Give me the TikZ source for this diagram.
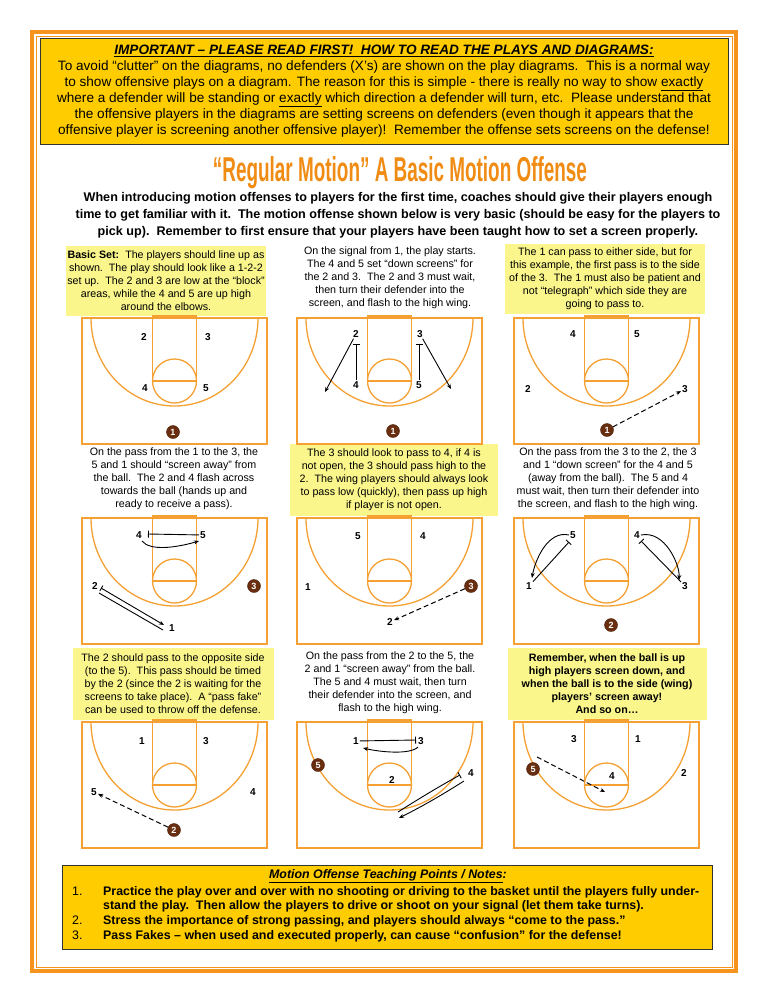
\documentclass[tikz,border=0pt]{standalone}
\usepackage{fontspec}
\setmainfont{Liberation Sans}
\usetikzlibrary{arrows.meta}
\definecolor{frameor}{RGB}{247,148,29}
\definecolor{courtor}{RGB}{245,160,50}
\definecolor{hdryel}{RGB}{255,204,0}
\definecolor{ltyel}{RGB}{250,246,140}
\definecolor{balbr}{RGB}{105,45,15}
\definecolor{titleor}{RGB}{240,140,20}
\tikzset{
  courtline/.style={draw=courtor,line width=1.3pt},
  pnum/.style={font=\fontsize{10}{10}\selectfont\bfseries,inner sep=1pt},
  ballnode/.style={circle,fill=balbr,draw=balbr!70!black,minimum size=13pt,inner sep=0pt,text=white,font=\fontsize{9}{9}\selectfont\bfseries},
  mv/.style={-{Stealth[length=5pt,width=4pt]},line width=0.9pt},
  pass/.style={-{Stealth[length=5pt,width=4pt]},line width=1pt,dash pattern=on 5pt off 3pt},
  scr/.style={-{Bar[width=7pt]},line width=0.9pt},
  txt/.style={align=center,font=\fontsize{10.7}{13}\selectfont,inner sep=1pt},
  ybox/.style={txt,fill=ltyel,minimum width=198pt,minimum height=70pt},
}
\newcommand{\drawcourt}[2]{%
  \begin{scope}[shift={(#1,#2)}]
    \draw[courtline] (0,0) rectangle (185,126);
    \draw[courtline] (70.5,-2) rectangle (114.5,63);
    \draw[courtline] (92.5,63) circle (22);
    \draw[courtline] (9,0) arc[start angle=180,end angle=0,x radius=83.5,y radius=88];
  \end{scope}}
\begin{document}
\begin{tikzpicture}[x=1pt,y=-1pt]
\useasboundingbox (0,0) rectangle (768,994);
\fill[white] (0,0) rectangle (768,994);
% outer frame
\draw[frameor,line width=4pt] (32,32) rectangle (736,971);
\draw[frameor,line width=0.6pt] (36,36) rectangle (732,967);
% header
\node[draw=black!80,line width=0.8pt,fill=hdryel,minimum width=688pt,minimum height=106pt,inner sep=0pt] (hdrbox) at (384,91) {};
\node[align=center,font=\fontsize{13.6}{16}\selectfont,inner sep=0pt] (hdr) at (384,91) {%
\underline{\textbf{\textit{IMPORTANT -- PLEASE READ FIRST!\ \ HOW TO READ THE PLAYS AND DIAGRAMS:}}}\\
To avoid “clutter” on the diagrams, no defenders (X’s) are shown on the play diagrams.\ \ This is a normal way\\
to show offensive plays on a diagram. The reason for this is simple - there is really no way to show \underline{exactly}\\
where a defender will be standing or \underline{exactly} which direction a defender will turn, etc.\ \ Please understand that\\
the offensive players in the diagrams are setting screens on defenders (even though it appears that the\\
offensive player is screening another offensive player)!\ \ Remember the offense sets screens on the defense!};
% title
\node[inner sep=0pt,text=titleor] (title) at (400,173) {\resizebox{374pt}{25pt}{\bfseries “Regular Motion” A Basic Motion Offense}};
\node[align=center,font=\fontsize{12.6}{17}\selectfont\bfseries,inner sep=0pt] (intro) at (398,215) {%
When introducing motion offenses to players for the first time, coaches should give their players enough\\
time to get familiar with it.\ \ The motion offense shown below is very basic (should be easy for the players to\\
pick up).\ \ Remember to first ensure that your players have been taught how to set a screen properly.};
% row 1 texts
\node[ybox] (t1) at (166,281) {\textbf{Basic Set:}\ \ The players should line up as\\ shown.\ \ The play should look like a 1-2-2\\ set up.\ \ The 2 and 3 are low at the “block”\\ areas, while the 4 and 5 are up high\\ around the elbows.};
\node[txt] (t2) at (390,278) {On the signal from 1, the play starts.\\ The 4 and 5 set “down screens” for\\ the 2 and 3.\ \ The 2 and 3 must wait,\\ then turn their defender into the\\ screen, and flash to the high wing.};
\node[ybox,minimum width=200pt] (t3) at (605,279) {The 1 can pass to either side, but for\\ this example, the first pass is to the side\\ of the 3.\ \ The 1 must also be patient and\\ not “telegraph” which side they are\\ going to pass to.};
% row 2 texts
\node[txt] (t4) at (174,479) {On the pass from the 1 to the 3, the\\ 5 and 1 should “screen away” from\\ the ball.\ \ The 2 and 4 flash across\\ towards the ball (hands up and\\ ready to receive a pass).};
\node[ybox,minimum width=208pt,minimum height=72pt] (t5) at (394,480) {The 3 should look to pass to 4, if 4 is\\ not open, the 3 should pass high to the\\ 2.\ \ The wing players should always look\\ to pass low (quickly), then pass up high\\ if player is not open.};
\node[txt] (t6) at (608,479) {On the pass from the 3 to the 2, the 3\\ and 1 “down screen” for the 4 and 5\\ (away from the ball).\ \ The 5 and 4\\ must wait, then turn their defender into\\ the screen, and flash to the high wing.};
% row 3 texts
\node[ybox,minimum width=201pt,minimum height=72pt] (t7) at (173,684) {The 2 should pass to the opposite side\\ (to the 5).\ \ This pass should be timed\\ by the 2 (since the 2 is waiting for the\\ screens to take place).\ \ A “pass fake”\\ can be used to throw off the defense.};
\node[txt] (t8) at (390,683) {On the pass from the 2 to the 5, the\\ 2 and 1 “screen away” from the ball.\\ The 5 and 4 must wait, then turn\\ their defender into the screen, and\\ flash to the high wing.};
\node[ybox,minimum width=199pt,minimum height=72pt,font=\fontsize{10.7}{13}\selectfont\bfseries] (t9) at (607,684) {Remember, when the ball is up\\ high players screen down, and\\ when the ball is to the side (wing)\\ players’ screen away!\\ And so on…};
% courts
\drawcourt{82}{318}\drawcourt{297}{318}\drawcourt{514}{318}
\drawcourt{82}{518}\drawcourt{297}{518}\drawcourt{514}{518}
\drawcourt{82}{722}\drawcourt{297}{722}\drawcourt{514}{722}
% court 1
\node[pnum] (a2) at (144,337) {2}; \node[pnum] (a3) at (208,337) {3};
\node[pnum] (a4) at (145,388) {4}; \node[pnum] (a5) at (206,388) {5};
\node[ballnode] (a1) at (173,432) {1};
% court 2
\node[pnum] (b2) at (356,334) {2}; \node[pnum] (b3) at (420,334) {3};
\node[pnum] (b4) at (356,385) {4}; \node[pnum] (b5) at (419,385) {5};
\node[ballnode] (b1) at (393,431) {1};
\coordinate (b2t) at (356,344); \coordinate (b3t) at (419,344);
\coordinate (b2e) at (325,392); \coordinate (b3e) at (451,389);
\draw[scr,line width=0.7pt] (b4) -- (b2t);
\draw[scr,line width=0.7pt] (b5) -- (b3t);
\draw[mv] (b2) -- (b2e);
\draw[mv] (b3) -- (b3e);
% court 3
\node[pnum] (c4) at (573,334) {4}; \node[pnum] (c5) at (637,334) {5};
\node[pnum] (c2) at (528,389) {2}; \node[pnum] (c3) at (685,389) {3};
\node[ballnode] (c1) at (607,430) {1};
\draw[pass] (c1) -- (c3);
% court 4
\node[pnum] (d4) at (139,535) {4}; \node[pnum] (d5) at (203,535) {5};
\node[pnum] (d2) at (95,586) {2}; \node[ballnode] (d3) at (254,586) {3};
\node[pnum] (d1) at (172,628) {1};
\coordinate (d4t) at (148,534);
\draw[scr] (d5) -- (d4t);
\draw[mv] (142,541) .. controls (150,551) and (175,548) .. (199,541);
\coordinate (d2a) at (101,588); \coordinate (d1a) at (164,625);
\coordinate (d2b) at (99,593); \coordinate (d1b) at (163,630);
\draw[line width=0.9pt,{Bar[width=6pt]}-{Stealth[length=5pt,width=4pt]}] (d2a) -- (d1a);
\draw[line width=0.9pt] (d2b) -- (d1b);
% court 5
\node[pnum] (e5) at (358,536) {5}; \node[pnum] (e4) at (423,536) {4};
\node[pnum] (e1) at (308,587) {1}; \node[ballnode] (e3) at (471,586) {3};
\node[pnum] (e2) at (390,622) {2};
\draw[pass] (e3) -- (e2);
% court 6
\node[pnum] (f5) at (573,535) {5}; \node[pnum] (f4) at (637,535) {4};
\node[pnum] (f1) at (529,586) {1}; \node[pnum] (f3) at (685,586) {3};
\node[ballnode] (f2) at (611,625) {2};
\coordinate (f5t) at (569,542); \coordinate (f4t) at (641,541);
\draw[scr] (f1) -- (f5t);
\draw[scr] (f3) -- (f4t);
\draw[mv] (f5.west) .. controls (548,530) and (535,560) .. (532,578);
\draw[mv] (f4.east) .. controls (665,530) and (680,565) .. (679,580);
% court 7
\node[pnum] (g1) at (142,741) {1}; \node[pnum] (g3) at (206,741) {3};
\node[pnum] (g5) at (94,792) {5}; \node[pnum] (g4) at (253,792) {4};
\node[ballnode] (g2) at (174,830) {2};
\draw[pass] (g2) -- (g5);
% court 8
\node[pnum] (h1) at (356,741) {1}; \node[pnum] (h3) at (421,741) {3};
\node[ballnode] (h5) at (318,765) {5}; \node[pnum] (h2) at (392,780) {2};
\node[pnum] (h4) at (471,773) {4};
\coordinate (h3t) at (416,740);
\draw[scr] (h1) -- (h3t);
\draw[mv] (418,747) .. controls (410,755) and (380,752) .. (363,748);
\coordinate (h4t) at (460,775); \coordinate (h2s) at (398,812);
\draw[scr] (h2s) .. controls (420,798) and (440,786) .. (h4t);
\draw[mv] (464,781) .. controls (445,793) and (425,805) .. (399,818);
% court 9
\node[pnum] (i3) at (574,739) {3}; \node[pnum] (i1) at (638,739) {1};
\node[pnum] (i4) at (612,776) {4}; \node[pnum] (i2) at (684,773) {2};
\node[ballnode] (i5) at (533,769) {5};
\coordinate (i5e) at (605,792);
\draw[pass] (537,757) -- (i5e);
% notes box
\node[draw=black!80,line width=0.8pt,fill=hdryel,minimum width=650pt,minimum height=84pt,inner sep=0pt] (notes) at (387,907) {};
\node[font=\fontsize{12.4}{10}\selectfont\bfseries\itshape,inner sep=0pt] (ntitle) at (388,876) {\underline{Motion Offense Teaching Points / Notes}:};
\begin{scope}[every node/.style={anchor=base west,font=\fontsize{12.4}{14.5}\selectfont\bfseries,inner sep=0pt}]
\node (n1) at (72,895) {\mdseries 1.};
\node (n1t) at (103,895) {Practice the play over and over with no shooting or driving to the basket until the players fully under-};
\node (n1u) at (103,909) {stand the play.\ \ Then allow the players to drive or shoot on your signal (let them take turns).};
\node (n2) at (72,924) {\mdseries 2.};
\node (n2t) at (103,924) {Stress the importance of strong passing, and players should always “come to the pass.”};
\node (n3) at (72,939) {\mdseries 3.};
\node (n3t) at (103,939) {Pass Fakes -- when used and executed properly, can cause “confusion” for the defense!};
\end{scope}
\end{tikzpicture}
\end{document}
